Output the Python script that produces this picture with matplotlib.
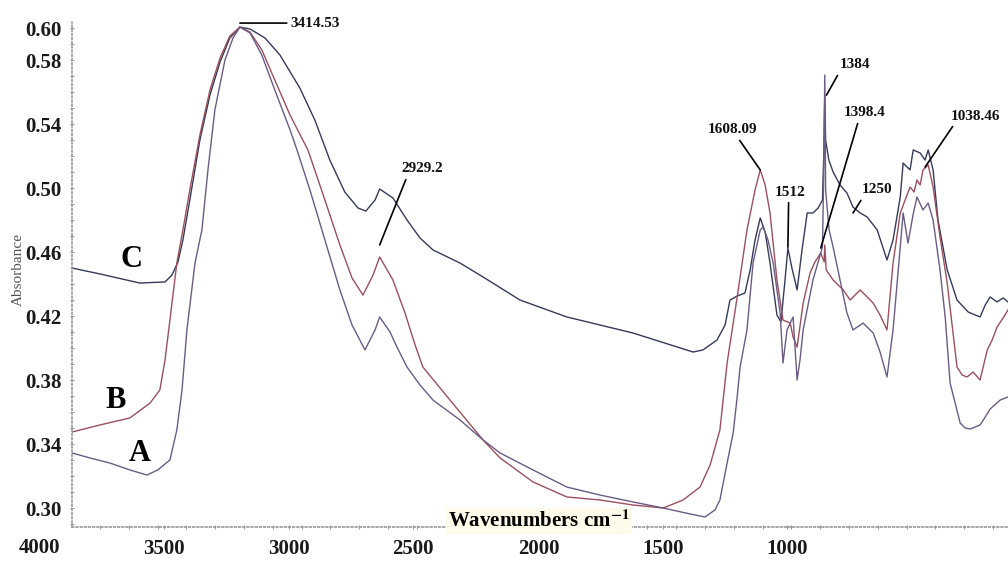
import numpy as np
import matplotlib.pyplot as plt
import matplotlib.transforms as mtransforms
from matplotlib.ticker import MultipleLocator

plt.rcParams['font.family'] = ['Liberation Serif', 'DejaVu Serif']
plt.rcParams['mathtext.fontset'] = 'stix'

# spectrum C (top trace)
wn_c = [3997, 3900, 3761, 3674, 3650, 3629, 3612, 3588, 3553, 3518, 3483, 3449, 3414,
        3379, 3327, 3275, 3206, 3154, 3102, 3050, 3004, 2977, 2945, 2929, 2883, 2834,
        2789, 2744, 2650, 2570, 2442, 2279, 2050, 1841, 1807, 1758, 1730, 1713, 1688,
        1661, 1643, 1626, 1608, 1591, 1574, 1550, 1536, 1522, 1512, 1498, 1480, 1463,
        1445, 1425, 1407, 1392, 1387, 1384, 1381, 1370, 1355, 1331, 1307, 1286, 1261,
        1237, 1202, 1185, 1168, 1147, 1122, 1112, 1088, 1077, 1053, 1036, 1025, 1008,
        991, 959, 925, 886, 845, 827, 810, 786, 765, 748]
abs_c = [0.4500, 0.4463, 0.4406, 0.4413, 0.4456, 0.4538, 0.4675, 0.4925, 0.5300, 0.5581,
         0.5788, 0.5938, 0.6006, 0.5994, 0.5938, 0.5831, 0.5625, 0.5425, 0.5175, 0.4975,
         0.4875, 0.4856, 0.4925, 0.4994, 0.4938, 0.4800, 0.4688, 0.4613, 0.4531, 0.4444,
         0.4300, 0.4194, 0.4094, 0.3975, 0.3988, 0.4050, 0.4144, 0.4300, 0.4325, 0.4344,
         0.4488, 0.4675, 0.4813, 0.4725, 0.4531, 0.4206, 0.4163, 0.4425, 0.4625, 0.4500,
         0.4363, 0.4613, 0.4844, 0.4844, 0.4875, 0.4925, 0.5238, 0.5581, 0.5300, 0.5175,
         0.5100, 0.5019, 0.4969, 0.4881, 0.4844, 0.4819, 0.4738, 0.4644, 0.4550, 0.4675,
         0.4944, 0.5156, 0.5113, 0.5238, 0.5219, 0.5175, 0.5238, 0.5113, 0.4800, 0.4488,
         0.4300, 0.4225, 0.4194, 0.4269, 0.4319, 0.4288, 0.4313, 0.4288]

# spectrum B (middle trace)
wn_b = [3997, 3900, 3796, 3726, 3692, 3674, 3657, 3633, 3612, 3588, 3553, 3518, 3483,
        3449, 3414, 3379, 3338, 3293, 3240, 3178, 3119, 3067, 3025, 2987, 2952, 2929,
        2883, 2841, 2806, 2779, 2685, 2570, 2511, 2397, 2279, 2164, 2050, 1945, 1876,
        1817, 1782, 1748, 1723, 1688, 1654, 1626, 1608, 1591, 1574, 1550, 1529, 1504,
        1494, 1480, 1459, 1435, 1418, 1398, 1386, 1384, 1379, 1355, 1320, 1296, 1261,
        1216, 1192, 1168, 1147, 1122, 1105, 1088, 1074, 1064, 1053, 1043, 1025, 1008,
        984, 959, 925, 907, 890, 869, 845, 820, 803, 786, 765, 748]
abs_b = [0.3475, 0.3519, 0.3563, 0.3656, 0.3738, 0.3925, 0.4175, 0.4531, 0.4738, 0.4988,
         0.5331, 0.5613, 0.5813, 0.5950, 0.6006, 0.5975, 0.5863, 0.5675, 0.5456, 0.5238,
         0.4925, 0.4644, 0.4438, 0.4331, 0.4456, 0.4569, 0.4425, 0.4219, 0.4019, 0.3881,
         0.3675, 0.3425, 0.3313, 0.3163, 0.3069, 0.3050, 0.3019, 0.3000, 0.3050, 0.3131,
         0.3269, 0.3488, 0.3906, 0.4319, 0.4738, 0.4988, 0.5113, 0.5019, 0.4844, 0.4425,
         0.4175, 0.4156, 0.4069, 0.4006, 0.4281, 0.4469, 0.4538, 0.4594, 0.4538, 0.4644,
         0.4488, 0.4425, 0.4363, 0.4300, 0.4363, 0.4281, 0.4206, 0.4113, 0.4531, 0.4844,
         0.4925, 0.5006, 0.4975, 0.5050, 0.5019, 0.5113, 0.5144, 0.5006, 0.4694, 0.4406,
         0.3881, 0.3831, 0.3819, 0.3850, 0.3800, 0.3988, 0.4050, 0.4131, 0.4188, 0.4238]

# spectrum A (bottom trace)
wn_a = [3997, 3935, 3865, 3796, 3737, 3699, 3657, 3633, 3615, 3598, 3570, 3546, 3525,
        3501, 3466, 3438, 3414, 3379, 3338, 3293, 3240, 3216, 3171, 3119, 3067, 3025,
        2980, 2945, 2929, 2893, 2869, 2834, 2789, 2744, 2650, 2570, 2511, 2397, 2279,
        2164, 2050, 1945, 1852, 1800, 1765, 1748, 1723, 1702, 1688, 1678, 1654, 1633,
        1608, 1598, 1581, 1563, 1539, 1529, 1515, 1494, 1480, 1470, 1459, 1425, 1400,
        1392, 1388, 1384, 1381, 1369, 1355, 1331, 1307, 1286, 1251, 1216, 1192, 1168,
        1147, 1122, 1112, 1095, 1077, 1064, 1043, 1025, 1008, 984, 966, 949, 914, 897,
        879, 845, 827, 810, 775, 748]
abs_a = [0.3344, 0.3313, 0.3281, 0.3238, 0.3206, 0.3238, 0.3300, 0.3488, 0.3738, 0.4113,
         0.4531, 0.4738, 0.5113, 0.5488, 0.5800, 0.5938, 0.6006, 0.5969, 0.5831, 0.5613,
         0.5363, 0.5238, 0.4988, 0.4675, 0.4363, 0.4144, 0.3988, 0.4113, 0.4194, 0.4100,
         0.4006, 0.3881, 0.3769, 0.3675, 0.3550, 0.3425, 0.3344, 0.3238, 0.3131, 0.3081,
         0.3038, 0.3000, 0.2963, 0.2944, 0.2988, 0.3050, 0.3281, 0.3469, 0.3694, 0.3881,
         0.4113, 0.4531, 0.4738, 0.4756, 0.4675, 0.4531, 0.4219, 0.3906, 0.4113, 0.4194,
         0.3800, 0.3925, 0.4113, 0.4425, 0.4581, 0.4631, 0.5050, 0.5706, 0.4988, 0.4738,
         0.4631, 0.4425, 0.4219, 0.4113, 0.4156, 0.4094, 0.3975, 0.3819, 0.4113, 0.4631,
         0.4844, 0.4656, 0.4838, 0.4944, 0.4863, 0.4906, 0.4800, 0.4488, 0.4194, 0.3781,
         0.3531, 0.3500, 0.3494, 0.3519, 0.3569, 0.3619, 0.3675, 0.3694]

# peak labels: text, point on trace, text position
peak_text = ['3414.53', '2929.2', '1608.09', '1512', '1384', '1398.4', '1250', '1038.46']
peak_xy = [(3414, 0.6031), (2929, 0.4644), (1608, 0.5113), (1512, 0.4631),
           (1378, 0.5581), (1398, 0.4625), (1286, 0.4844), (1036, 0.5131)]
text_xy = [(3237, 0.6031), (2782, 0.5119), (1706, 0.5363), (1504, 0.4975),
           (1279, 0.5769), (1244, 0.5469), (1202, 0.4988), (862, 0.5450)]
text_rel = [(0, 0.5), (0.15, 0), (0.6, 0), (0.45, 0), (0, 0), (0.35, 0), (0.05, 0), (0.1, 0)]

# printed x scale of the original figure is shifted against the traces
xtick_labels = ['3500', '3000', '2500', '2000', '1500', '1000']
xtick_pos = [3678, 3244, 2813, 2376, 1945, 1515]
yticks = [0.30, 0.34, 0.38, 0.42, 0.46, 0.50, 0.54, 0.58, 0.60]

fig = plt.figure(figsize=(10.08, 5.62), dpi=100)
ax = fig.add_axes([0.0714, 0.0619, 0.9286, 0.8996])

ax.plot(wn_c, abs_c, color='#353a5a', lw=1.0)
ax.plot(wn_b, abs_b, color='#9c4f5e', lw=1.0)
ax.plot(wn_a, abs_a, color='#6b5b85', lw=1.0)

ax.set_xlim(3997, 748)
ax.set_ylim(0.288, 0.604)

for s in ['top', 'right']:
    ax.spines[s].set_visible(False)
for s in ['left', 'bottom']:
    ax.spines[s].set_linestyle((0, (1, 1.5)))
    ax.spines[s].set_color('#9a9a9a')
    ax.spines[s].set_linewidth(1.2)

ax.set_xticks(xtick_pos)
ax.set_xticklabels(xtick_labels)
ax.set_yticks(yticks)
ax.set_yticklabels(['%.2f' % v for v in yticks])
ax.xaxis.set_minor_locator(MultipleLocator(100))
ax.yaxis.set_minor_locator(MultipleLocator(0.01))
ax.tick_params(which='both', length=2.5, width=0.8, color='#9a9a9a', direction='inout')
ax.tick_params(axis='x', labelsize=15, pad=7, labelcolor='#1a1a1a')
ax.tick_params(axis='y', labelsize=15, pad=6, labelcolor='#1a1a1a')
for lbl in ax.get_xticklabels() + ax.get_yticklabels():
    lbl.set_fontweight('bold')

trans = mtransforms.blended_transform_factory(ax.transData, ax.transAxes)
ax.text(4108, -0.041, '4000', transform=trans, ha='center', va='center',
        fontsize=15, fontweight='bold', color='#1a1a1a', clip_on=False)

ax.text(0.499, 0.012, 'Wavenumbers cm$^{\\mathbf{-1}}$', transform=ax.transAxes,
        ha='center', va='center', fontsize=15, fontweight='bold', color='black',
        bbox=dict(boxstyle='square,pad=0.1', fc='#fffbea', ec='none'))
fig.text(0.018, 0.52, 'Absorbance', rotation=90, ha='center', va='center',
         fontsize=11, color='#555555')

# sample letters
ax.text(3792, 0.4556, 'C', fontsize=22, fontweight='bold', ha='center', va='center')
ax.text(3845, 0.3675, 'B', fontsize=22, fontweight='bold', ha='center', va='center')
ax.text(3761, 0.3338, 'A', fontsize=22, fontweight='bold', ha='center', va='center')

for t, xy, txy, rp in zip(peak_text, peak_xy, text_xy, text_rel):
    ha = 'left' if rp[0] == 0 and rp[1] == 0.5 else 'center'
    ax.annotate(t, xy=xy, xytext=txy, ha=ha, va='center', fontsize=11,
                fontweight='bold', color='#111111',
                arrowprops=dict(arrowstyle='-', color='black', lw=1.2,
                                relpos=rp, shrinkA=1, shrinkB=0))

fig.savefig('out.png', dpi=100)
